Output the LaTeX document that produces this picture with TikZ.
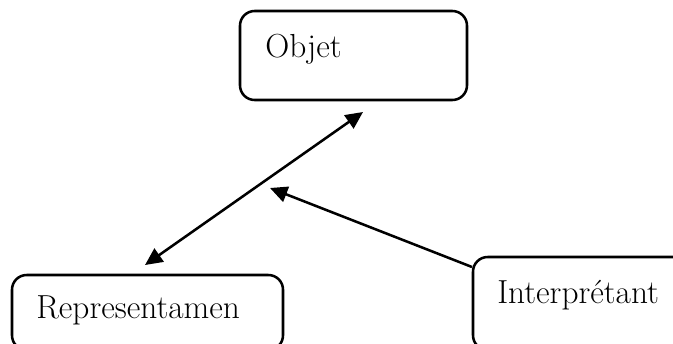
\documentclass[tikz,border=0pt]{standalone}
\usetikzlibrary{arrows.meta}
\begin{document}
\begin{tikzpicture}[x=0.75pt,y=-0.75pt,
  box/.style={draw=black,line width=1.9pt,rounded corners=11pt,fill=none,inner sep=0pt},
  lbl/.style={anchor=base west,inner sep=0pt,font=\fontsize{25}{30}\selectfont},
  arr/.style={line width=1.9pt,-{Triangle[length=13pt,width=12pt]}},
  darr/.style={line width=1.9pt,{Triangle[length=13pt,width=12pt]}-{Triangle[length=13pt,width=12pt]}}]
\useasboundingbox (0,0) rectangle (673,343);
\clip (0,0) rectangle (673,343);
\node[box,minimum width=170.25pt,minimum height=66.75pt] (objet) at (353.5,55.5) {};
\node[box,minimum width=203.25pt,minimum height=56.25pt] (repr) at (147.5,312.5) {};
\node[box,minimum width=170.25pt,minimum height=69.75pt] (interp) at (586.5,303.5) {};
\node[lbl] (tobjet) at (265,57) {Objet};
\node[lbl] (trepr) at (36,318) {Representamen};
\node[lbl] (tinterp) at (497,303) {Interprétant};
\coordinate (a1) at (145,265);
\coordinate (a2) at (363,112);
\coordinate (b1) at (472,267);
\coordinate (b2) at (270,188);
\draw[darr] (a1) -- (a2);
\draw[arr] (b1) -- (b2);
\end{tikzpicture}
\end{document}
